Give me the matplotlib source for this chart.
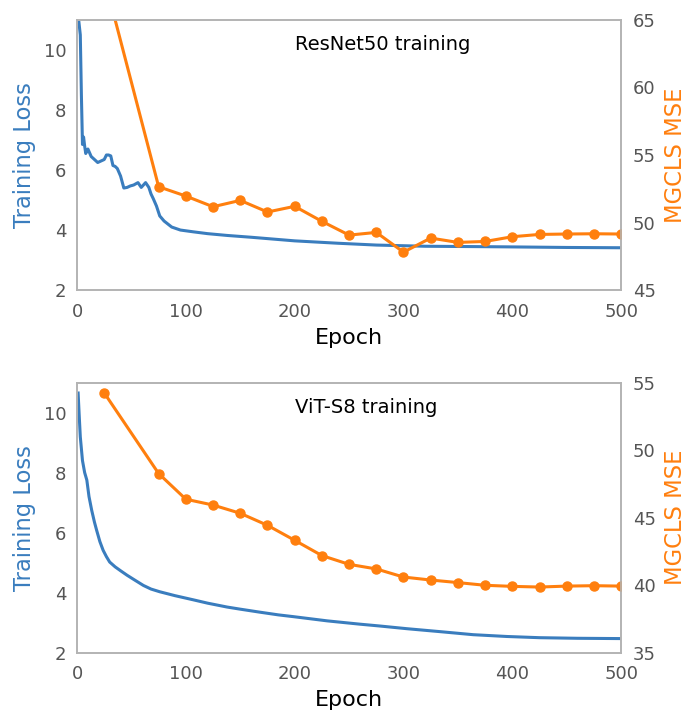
import matplotlib
matplotlib.use("Agg")
import matplotlib.pyplot as plt
import numpy as np

# ResNet50 panel
rn_loss_epoch = [0, 1.5, 3, 4, 5, 6, 7, 8, 10, 13, 16, 19, 22, 25, 27, 29, 31, 33, 35, 37, 40, 43,
                 46, 49, 52, 56, 59, 63, 66, 68, 70, 73, 76, 80, 87, 95, 107, 120, 138, 160,
                 200, 240, 275, 320, 360, 395, 450, 500]
rn_loss = [11.6, 11.0, 10.5, 8.5, 6.85, 7.1, 6.8, 6.55, 6.7, 6.45, 6.35, 6.25, 6.3, 6.35, 6.5, 6.5,
           6.47, 6.15, 6.12, 6.05, 5.8, 5.4, 5.42, 5.47, 5.5, 5.58, 5.42, 5.58, 5.42, 5.2, 5.05,
           4.8, 4.47, 4.3, 4.1, 4.0, 3.94, 3.88, 3.82, 3.76, 3.64, 3.56, 3.5, 3.46, 3.45, 3.44,
           3.42, 3.41]
rn_mse_epoch = [25, 75, 100, 125, 150, 175, 200, 225, 250, 275, 300, 325, 350, 375, 400, 425, 450, 475, 500]
rn_mse = [68.1, 52.65, 51.96, 51.17, 51.64, 50.78, 51.2, 50.09, 49.07, 49.27, 47.81, 48.85,
          48.53, 48.6, 48.95, 49.12, 49.15, 49.17, 49.15]

# ViT-S8 panel
vit_loss_epoch = [1, 2, 3, 5, 7, 9, 11, 13.5, 16, 18, 21, 24, 27, 30, 35, 40, 46, 53, 61, 68, 76, 90,
                  107, 120, 138, 150, 168, 185, 199, 230, 260, 278, 303, 334, 364, 395, 425, 460, 500]
vit_loss = [10.65, 9.9, 9.19, 8.4, 8.0, 7.75, 7.2, 6.74, 6.35, 6.08, 5.7, 5.41, 5.2, 5.02, 4.86,
            4.73, 4.58, 4.42, 4.24, 4.12, 4.03, 3.9, 3.76, 3.65, 3.52, 3.45, 3.35, 3.26, 3.2,
            3.06, 2.95, 2.89, 2.8, 2.7, 2.6, 2.54, 2.5, 2.48, 2.47]
vit_mse_epoch = [25, 75, 100, 125, 150, 175, 200, 225, 250, 275, 300, 325, 350, 375, 400, 425, 450, 475, 500]
vit_mse = [54.23, 48.26, 46.36, 45.93, 45.32, 44.43, 43.32, 42.19, 41.54, 41.2, 40.6, 40.38,
           40.19, 39.99, 39.91, 39.86, 39.93, 39.96, 39.93]

blue = '#3a7dbe'
orange = '#ff7f0e'
tick_col = '#555555'
spine_col = '#b3b3b3'

fig = plt.figure(figsize=(6.94, 7.11), dpi=100)

panels = [
    (rn_loss_epoch, rn_loss, rn_mse_epoch, rn_mse, (45, 65), 'ResNet50 training', 0.592),
    (vit_loss_epoch, vit_loss, vit_mse_epoch, vit_mse, (35, 55), 'ViT-S8 training', 0.082),
]

for le, lv, me, mv, rlim, title, bottom in panels:
    ax = fig.add_axes([0.111, bottom, 0.784, 0.380])
    ax.plot(le, lv, color=blue, lw=2.2)
    ax.set_xlim(0, 500)
    ax.set_ylim(2, 11)
    ax.set_yticks([2, 4, 6, 8, 10])
    ax.set_xticks([0, 100, 200, 300, 400, 500])
    ax.set_ylabel('Training Loss', color=blue, fontsize=16.3, labelpad=6)
    ax.set_xlabel('Epoch', fontsize=16, labelpad=5)
    ax.tick_params(axis='y', length=0, labelsize=13, labelcolor=tick_col, pad=7.5)
    ax.tick_params(axis='x', length=0, labelsize=13, labelcolor=tick_col, pad=9)

    ax2 = ax.twinx()
    ax2.plot(me, mv, color=orange, lw=2.2, marker='o', ms=6.5)
    ax2.set_ylim(*rlim)
    ax2.set_yticks(np.arange(rlim[0], rlim[1] + 1, 5))
    ax2.set_ylabel('MGCLS MSE', color=orange, fontsize=16.3, labelpad=6)
    ax2.tick_params(length=0, labelsize=13, labelcolor=tick_col, pad=8.5)

    for a in (ax, ax2):
        for s in a.spines.values():
            s.set_color(spine_col)
            s.set_linewidth(1.2)

    ax.text(0.401, 0.908, title, transform=ax.transAxes, fontsize=14, ha='left', va='center')

fig.savefig('out.png', dpi=100)
